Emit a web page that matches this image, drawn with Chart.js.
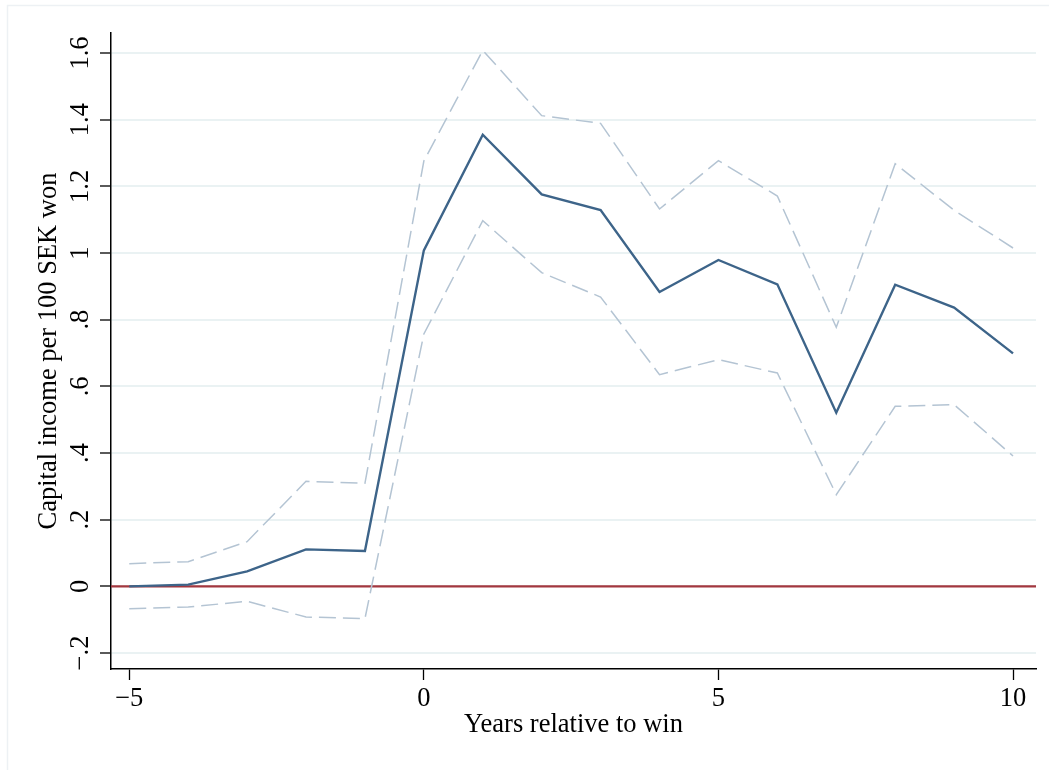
<!DOCTYPE html>
<html>
<head>
<meta charset="utf-8">
<script src="https://cdn.jsdelivr.net/npm/chart.js@4"></script>
<style>
    body { margin: 0; background: #fff; overflow: hidden; }
    #wrap { position: relative; width: 1049px; height: 770px; }
</style>
</head>
<body>
<div id="wrap"><canvas id="chart"></canvas></div>
<script>
// Years relative to win
const years = [-5, -4, -3, -2, -1, 0, 1, 2, 3, 4, 5, 6, 7, 8, 9, 10];
// Point estimate and 95% CI bounds
const estimate = [0.0, 0.005, 0.045, 0.111, 0.106, 1.008, 1.355, 1.176, 1.129, 0.883, 0.979, 0.906, 0.521, 0.905, 0.836, 0.699];
const upperCI = [0.068, 0.074, 0.134, 0.315, 0.309, 1.276, 1.608, 1.412, 1.389, 1.132, 1.277, 1.171, 0.777, 1.268, 1.128, 1.015];
const lowerCI = [-0.067, -0.062, -0.045, -0.092, -0.097, 0.757, 1.097, 0.941, 0.868, 0.635, 0.680, 0.640, 0.275, 0.540, 0.545, 0.391];

const xTicks = [-5, 0, 5, 10];
const yTicks = [-0.2, 0, 0.2, 0.4, 0.6, 0.8, 1, 1.2, 1.4, 1.6];
const xRange = [-5.31, 10.39];
const yRange = [-0.248, 1.66];

const serif = "'Liberation Serif', 'Times New Roman', serif";

function toPoints(vals) {
    return years.map((x, i) => ({ x, y: vals[i] }));
}

function stataLabel(v) {
    let s = String(Math.round(Math.abs(v) * 10) / 10);
    if (s.startsWith('0.')) s = s.slice(1);
    return (v < 0 ? '\u2212' : '') + s;
}

// outer frame + rotated y tick labels (Stata style)
const stataBits = {
    id: 'stataBits',
    beforeDraw(chart) {
        const ctx = chart.ctx;
        ctx.save();
        ctx.strokeStyle = '#edf1f4';
        ctx.lineWidth = 1.5;
        ctx.strokeRect(7.5, 5.5, 1200, 900);
        ctx.restore();
    },
    afterDraw(chart) {
        const ctx = chart.ctx;
        const yScale = chart.scales.y;
        ctx.save();
        ctx.fillStyle = '#000';
        ctx.font = '26.5px ' + serif;
        ctx.textAlign = 'center';
        ctx.textBaseline = 'alphabetic';
        yScale.ticks.forEach(t => {
            const py = yScale.getPixelForValue(t.value);
            ctx.save();
            ctx.translate(88, py);
            ctx.rotate(-Math.PI / 2);
            ctx.fillText(stataLabel(t.value), 0, 0);
            ctx.restore();
        });
        ctx.restore();
    }
};

new Chart(document.getElementById('chart'), {
    type: 'line',
    data: {
        datasets: [
            {
                label: 'Estimate',
                data: toPoints(estimate),
                borderColor: '#3d6489',
                borderWidth: 2.4,
                pointRadius: 0,
                tension: 0
            },
            {
                label: 'Upper CI',
                data: toPoints(upperCI),
                borderColor: '#b4c4d3',
                borderWidth: 1.5,
                borderDash: [17, 7],
                pointRadius: 0,
                tension: 0
            },
            {
                label: 'Lower CI',
                data: toPoints(lowerCI),
                borderColor: '#b4c4d3',
                borderWidth: 1.5,
                borderDash: [17, 7],
                pointRadius: 0,
                tension: 0
            },
            {
                label: 'Zero',
                data: [{ x: xRange[0], y: 0 }, { x: xRange[1], y: 0 }],
                borderColor: '#a3373f',
                borderWidth: 2.2,
                pointRadius: 0
            }
        ]
    },
    options: {
        responsive: true,
        maintainAspectRatio: false,
        animation: false,
        layout: { padding: { top: 33, right: 13, left: 0, bottom: 0 } },
        plugins: {
            legend: { display: false },
            tooltip: { enabled: false }
        },
        scales: {
            x: {
                type: 'linear',
                min: xRange[0],
                max: xRange[1],
                afterBuildTicks: s => { s.ticks = xTicks.map(v => ({ value: v })); },
                afterFit: s => { s.height = 101; },
                grid: {
                    drawOnChartArea: false,
                    drawTicks: true,
                    tickLength: 11,
                    tickColor: '#000',
                    tickWidth: 1.3
                },
                border: { display: true, color: '#000', width: 1.5 },
                ticks: {
                    color: '#000',
                    font: { family: serif, size: 26.5 },
                    padding: 3,
                    maxRotation: 0,
                    callback: v => stataLabel(v)
                },
                title: {
                    display: true,
                    text: 'Years relative to win',
                    color: '#000',
                    font: { family: serif, size: 26.5 },
                    padding: { top: 0, bottom: 29 }
                }
            },
            y: {
                type: 'linear',
                min: yRange[0],
                max: yRange[1],
                afterBuildTicks: s => { s.ticks = yTicks.map(v => ({ value: v })); },
                afterFit: s => { s.width = 111; },
                grid: {
                    color: '#eaf2f3',
                    lineWidth: 2,
                    drawTicks: true,
                    tickLength: 11,
                    tickColor: '#000',
                    tickWidth: 1.3
                },
                border: { display: true, color: '#000', width: 1.5 },
                ticks: { display: false },
                title: {
                    display: true,
                    text: 'Capital income per 100 SEK won',
                    color: '#000',
                    font: { family: serif, size: 26.5 },
                    padding: { top: 33, bottom: 0 }
                }
            }
        }
    },
    plugins: [stataBits]
});
</script>
</body>
</html>
